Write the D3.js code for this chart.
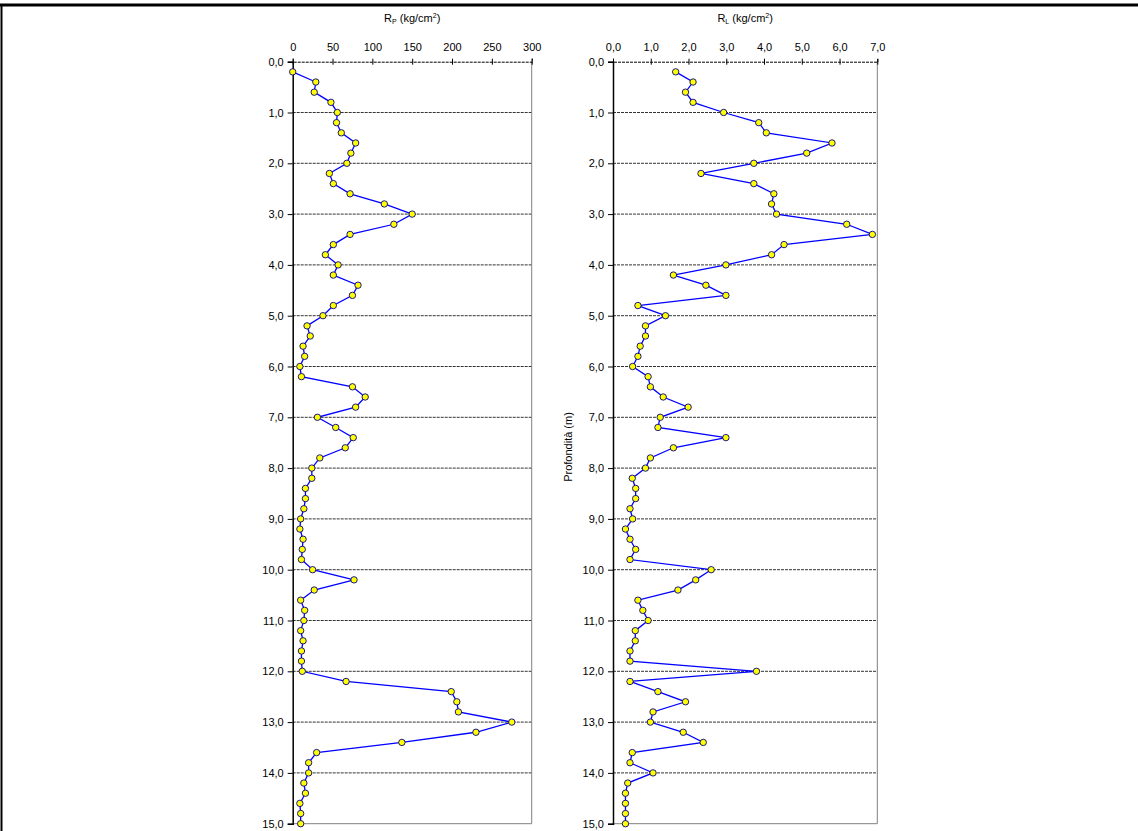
<!DOCTYPE html>
<html><head><meta charset="utf-8">
<script src="https://cdn.jsdelivr.net/npm/d3@7"></script>
<style>
body{margin:0;background:#fff;}
text{font-family:"Liberation Sans",Arial,sans-serif;fill:#000;}
</style></head>
<body><svg id="c" width="1138" height="831"></svg>
<script>
const depths = d3.range(1, 76).map(i => +(i * 0.2).toFixed(1));
const rp = [0,29,27,48,56,55,61,79,73,68,46,51,72,115,150,127,72,51,41,
  57,51,82,75,51,38,18,22,13,15,9,11,75,91,79,31,54,76,66,34,24,24,16,16,14,10,9,13,12,11,
  25,77,27,10,15,14,10,13,11,11,12,67,199,206,208,275,230,137,30,20,20,14,16,9,10,10];
const rl = [1.66,2.12,1.92,2.12,2.93,3.86,4.06,5.80,5.13,3.73,2.33,3.73,4.26,4.20,4.33,6.19,6.87,4.53,4.20,
  2.99,1.60,2.46,2.99,0.66,1.39,0.86,0.86,0.72,0.66,0.52,0.93,0.99,1.33,1.99,1.25,1.19,2.99,1.60,0.99,
  0.86,0.51,0.60,0.60,0.45,0.52,0.33,0.45,0.60,0.45,2.60,2.19,1.72,0.66,0.79,0.93,0.59,0.59,0.45,0.45,
  3.80,0.45,1.19,1.92,1.06,0.99,1.86,2.39,0.51,0.45,1.06,0.39,0.33,0.33,0.33,0.33];
const depthTicks = d3.range(0, 16);
const rpTicks = [0,50,100,150,200,250,300];
const rlTicks = [0,1,2,3,4,5,6,7];

const svg = d3.select("#c");
const comma = v => d3.format(".1f")(v).replace(".", ",");

// page frame
svg.append("line").attr("x1",0).attr("x2",1138).attr("y1",5).attr("y2",5).attr("stroke","#000").attr("stroke-width",3);
svg.append("line").attr("x1",1.5).attr("x2",1.5).attr("y1",5).attr("y2",831).attr("stroke","#000").attr("stroke-width",2);

function panel(cfg){
  const x = d3.scaleLinear().domain(cfg.xdom).range([cfg.x0, cfg.x1]);
  const y = d3.scaleLinear().domain([0,15]).range([61.7, 823.7]);
  const g = svg.append("g");
  // grid lines
  g.selectAll("line.grid").data(depthTicks.slice(1,15)).enter().append("line")
    .attr("x1",cfg.x0).attr("x2",cfg.x1).attr("y1",d=>y(d)).attr("y2",d=>y(d))
    .attr("stroke","#333").attr("stroke-width",1).attr("stroke-dasharray","3,1");
  // right and bottom border
  g.append("line").attr("x1",cfg.x1).attr("x2",cfg.x1).attr("y1",y(0)).attr("y2",y(15)).attr("stroke","#808080");
  g.append("line").attr("x1",cfg.x0).attr("x2",cfg.x1).attr("y1",y(15)).attr("y2",y(15)).attr("stroke","#808080");
  // top axis
  const top = d3.axisTop(x).tickValues(cfg.xticks).tickFormat(cfg.fmt).tickSize(3).tickPadding(8);
  const ta = g.append("g").attr("transform",`translate(0,${y(0)})`).call(top);
  ta.select(".domain").attr("stroke","#000").attr("stroke-dasharray","3,1");
  ta.selectAll(".tick line").attr("y2",-3).attr("y1",3).attr("stroke","#000");
  ta.selectAll("text").attr("font-size",11).style("font-family","Liberation Sans, Arial");
  // left axis
  const la = g.append("g").attr("transform",`translate(${cfg.x0},0)`)
    .call(d3.axisLeft(y).tickValues(depthTicks).tickFormat(comma).tickSize(5).tickPadding(4));
  la.select(".domain").attr("stroke","#000").attr("stroke-width",1.5);
  la.selectAll("text").attr("font-size",11).style("font-family","Liberation Sans, Arial");
  // line and markers
  const pts = depths.map((d,i)=>[cfg.vals[i], d]);
  g.append("path").datum(pts).attr("fill","none").attr("stroke","#0000ff").attr("stroke-width",1.3)
    .attr("d", d3.line().x(p=>x(p[0])).y(p=>y(p[1])));
  g.selectAll("circle").data(pts).enter().append("circle")
    .attr("cx",p=>x(p[0])).attr("cy",p=>y(p[1])).attr("r",3.2)
    .attr("fill","#ffff00").attr("stroke","#000080").attr("stroke-width",0.9);
  // title
  const t = svg.append("text").attr("x",(cfg.x0+cfg.x1)/2).attr("y",22).attr("text-anchor","middle").attr("font-size",11);
  t.append("tspan").text("R");
  t.append("tspan").text(cfg.sub).attr("font-size",7).attr("dy",2);
  t.append("tspan").text(" (kg/cm").attr("dy",-2);
  t.append("tspan").text("2").attr("font-size",7).attr("dy",-4);
  t.append("tspan").text(")").attr("dy",4);
  return {x,y};
}

panel({x0:292.7, x1:531.7, xdom:[0,300], xticks:rpTicks, fmt:d3.format("d"), vals:rp, sub:"P"});
panel({x0:613, x1:877.3, xdom:[0,7], xticks:rlTicks, fmt:comma, vals:rl, sub:"L"});

svg.append("text").attr("transform","translate(572,447) rotate(-90)").attr("text-anchor","middle")
  .attr("font-size",11).text("Profondità (m)");
</script></body></html>
